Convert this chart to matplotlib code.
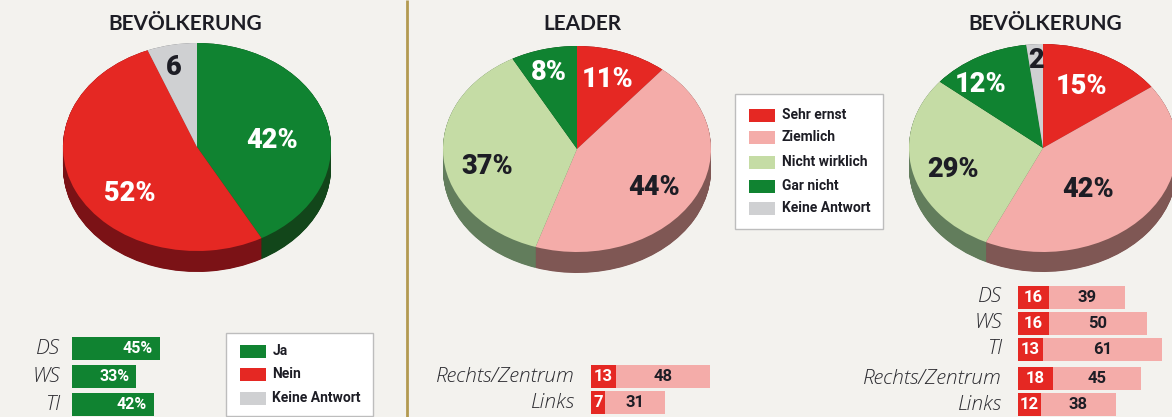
import numpy as np
import matplotlib
matplotlib.use('Agg')
import matplotlib.pyplot as plt
from matplotlib.patches import Rectangle

W, H = 1172, 417
BG = '#f3f2ee'
GREEN = '#108331'
RED = '#e52823'
GREY = '#cfd0d2'
PINK = '#f4aca9'
LGREEN = '#c5dca5'
INK = '#1d1d25'
NARROW = ['Roboto', 'DejaVu Sans']

# daten
pop1_values = [42, 52, 6]
pop1_labels = ['42%', '52%', '6']
leader_values = [11, 44, 37, 8]
leader_labels = ['11%', '44%', '37%', '8%']
pop2_values = [15, 42, 29, 12, 2]
pop2_labels = ['15%', '42%', '29%', '12%', '2']

ja_groups = ['DS', 'WS', 'TI']
ja_values = [45, 33, 42]

leader_groups = ['Rechts/Zentrum', 'Links']
leader_ernst = [13, 7]
leader_ziemlich = [48, 31]

pop_groups = ['DS', 'WS', 'TI', 'Rechts/Zentrum', 'Links']
pop_ernst = [16, 16, 13, 18, 12]
pop_ziemlich = [39, 50, 61, 45, 38]

legend1 = ['Ja', 'Nein', 'Keine Antwort']
legend2 = ['Sehr ernst', 'Ziemlich', 'Nicht wirklich', 'Gar nicht', 'Keine Antwort']

plt.rcParams['font.family'] = ['Lato', 'DejaVu Sans']
fig = plt.figure(figsize=(W / 100, H / 100), dpi=100, facecolor=BG)


def px_axes(x0, y0, x1, y1):
    """Axes ueber ein Pixel-Rechteck (y von oben)"""
    ax = fig.add_axes([x0 / W, 1 - y1 / H, (x1 - x0) / W, (y1 - y0) / H])
    ax.axis('off')
    return ax


def draw_pie(cx, cy, rx, ry, depth, values, colors, dark):
    ax = px_axes(cx - rx, cy - ry, cx + rx, cy + ry + depth)
    d = depth / ry
    # seitenwand: dunkle kopien nach unten gestapelt
    for off in np.linspace(d, 0, 45):
        ax.pie(values, colors=dark, startangle=90, counterclock=False,
               center=(0, -off), radius=1, wedgeprops={'linewidth': 0})
    ax.pie(values, colors=colors, startangle=90, counterclock=False,
           center=(0, 0), radius=1, wedgeprops={'linewidth': 0})
    ax.set_aspect('auto')
    ax.set_xlim(-1, 1)
    ax.set_ylim(-1 - d, 1)
    for p in ax.patches:
        p.set_clip_on(False)


draw_pie(197, 147, 134, 104, 21, pop1_values, [GREEN, RED, GREY],
         ['#12461a', '#7b1216', '#77787a'])
draw_pie(577, 149, 134, 103, 21, leader_values, [RED, PINK, LGREEN, GREEN],
         ['#7b1216', '#7f5754', '#627d5c', '#12461a'])
draw_pie(1043, 148, 134, 104, 20, pop2_values, [RED, PINK, LGREEN, GREEN, GREY],
         ['#7b1216', '#7f5754', '#627d5c', '#12461a', '#77787a'])


def draw_bars(x0, y_tops, first, second=None, colors=(GREEN, PINK), bar_h=23, scale=1.95):
    ax = px_axes(x0, 0, x0 + 200, H)
    ax.set_xlim(0, 200 / scale)
    ax.set_ylim(H, 0)
    centers = [y + bar_h / 2 for y in y_tops]
    ax.barh(centers, first, height=bar_h, color=colors[0], linewidth=0)
    if second is not None:
        ax.barh(centers, second, left=first, height=bar_h, color=colors[1], linewidth=0)


ja_y = [337, 365, 393]
leader_y = [365, 391]
pop_y = [286, 312, 338, 367, 393]
draw_bars(72, ja_y, ja_values)
draw_bars(591, leader_y, leader_ernst, leader_ziemlich, colors=(RED, PINK))
draw_bars(1018, pop_y, pop_ernst, pop_ziemlich, colors=(RED, PINK))

# overlay fuer text in pixeln
ov = px_axes(0, 0, W, H)
ov.set_xlim(0, W)
ov.set_ylim(H, 0)
ov.patch.set_alpha(0)
ov.plot([406.5, 406.5], [0, H], color='#b39a50', lw=2, solid_capstyle='butt')

for x, y, s in [(185, 24, 'BEVÖLKERUNG'), (582, 24, 'LEADER'), (1045, 24, 'BEVÖLKERUNG')]:
    ov.text(x, y, s, ha='center', va='center', fontsize=15, fontweight='bold', color=INK)


def pie_text(positions, labels, colors):
    for (x, y), s, c in zip(positions, labels, colors):
        ov.text(x, y, s, ha='center', va='center', fontsize=19.5, fontweight='black',
                family=NARROW, color=c)


pie_text([(272, 140), (130, 193), (174, 67)], pop1_labels, ['white', 'white', INK])
pie_text([(608, 79), (654, 187), (487, 166), (549, 72)], leader_labels,
         ['white', INK, INK, 'white'])
pie_text([(1082, 86), (1088, 189), (953, 169), (981, 84), (1036, 60)], pop2_labels,
         ['white', INK, INK, 'white', INK])


def group_labels(x, y_tops, names, bar_h=23):
    for y, s in zip(y_tops, names):
        ov.text(x, y + bar_h / 2, s, ha='right', va='center', fontsize=15,
                style='italic', fontweight='light', color='#2b2b30',
                family=['Open Sans', 'DejaVu Sans'])


group_labels(60, ja_y, ja_groups)
group_labels(575, leader_y, leader_groups)
group_labels(1002, pop_y, pop_groups)

for y, v in zip(ja_y, ja_values):
    ov.text(72 + v * 1.95 - 7, y + 11.5, f'{v}%', ha='right', va='center', fontsize=11.5,
            fontweight='bold', family=NARROW, color='white')


def stacked_text(x0, y_tops, first, second, scale=1.95):
    for y, a, b in zip(y_tops, first, second):
        ov.text(x0 + a * scale / 2, y + 11.5, str(a), ha='center', va='center', fontsize=12,
                fontweight='bold', family=NARROW, color='white')
        ov.text(x0 + (a + b / 2) * scale, y + 11.5, str(b), ha='center', va='center', fontsize=12,
                fontweight='bold', family=NARROW, color=INK)


stacked_text(591, leader_y, leader_ernst, leader_ziemlich)
stacked_text(1018, pop_y, pop_ernst, pop_ziemlich)


def legend_box(x0, y0, x1, y1, names, colors, ys):
    ov.add_patch(Rectangle((x0, y0), x1 - x0, y1 - y0, facecolor='white',
                           edgecolor='#bdbdbd', lw=1))
    for s, c, y in zip(names, colors, ys):
        ov.add_patch(Rectangle((x0 + 14, y - 6.5), 26, 13, facecolor=c, edgecolor='none'))
        ov.text(x0 + 47, y, s, ha='left', va='center', fontsize=10,
                fontweight='bold', family=NARROW, color=INK)


legend_box(225.5, 333, 373, 416, legend1, [GREEN, RED, GREY], [351, 374, 398])
legend_box(735, 94, 882.5, 229, legend2, [RED, PINK, LGREEN, GREEN, GREY],
           [115, 137, 162, 186, 208])

fig.savefig('out.png', dpi=100, facecolor=BG)
